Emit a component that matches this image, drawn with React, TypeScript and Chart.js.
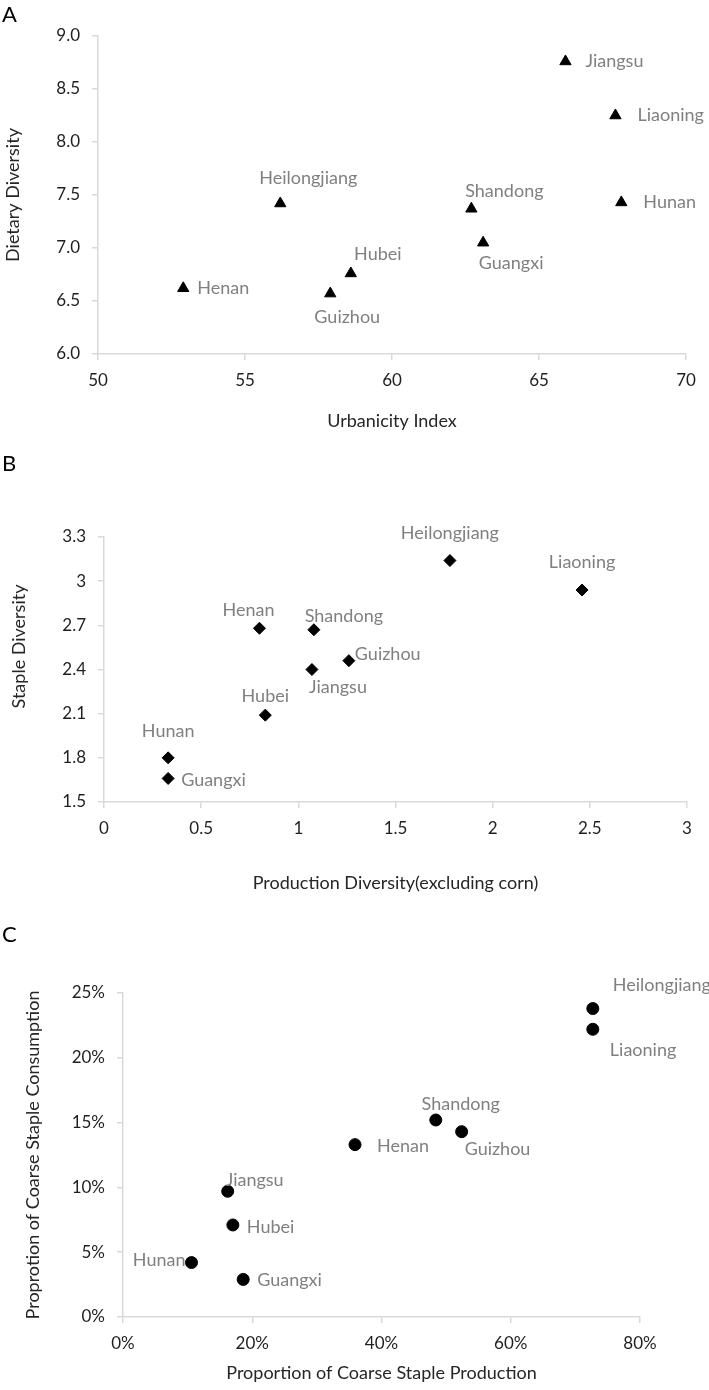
import React, { useEffect, useRef } from "react";
import { Chart, registerables } from "chart.js";

Chart.register(...registerables);

// ---------- Panel A data ----------
const provincesA = ["Jiangsu", "Liaoning", "Hunan", "Heilongjiang", "Shandong", "Guangxi", "Hubei", "Guizhou", "Henan"];
const urbanicityIndex = [65.9, 67.6, 67.8, 56.2, 62.7, 63.1, 58.6, 57.9, 52.9];
const dietaryDiversity = [8.76, 8.25, 7.43, 7.42, 7.37, 7.05, 6.76, 6.57, 6.62];
const xTicksA = [50, 55, 60, 65, 70];
const yTicksA = [6.0, 6.5, 7.0, 7.5, 8.0, 8.5, 9.0];

// ---------- Panel B data ----------
const provincesB = ["Heilongjiang", "Liaoning", "Henan", "Shandong", "Guizhou", "Jiangsu", "Hubei", "Hunan", "Guangxi"];
const productionDiversity = [1.78, 2.46, 0.8, 1.08, 1.26, 1.07, 0.83, 0.33, 0.33];
const stapleDiversity = [3.14, 2.94, 2.68, 2.67, 2.46, 2.4, 2.09, 1.8, 1.66];
const xTicksB = [0, 0.5, 1, 1.5, 2, 2.5, 3];
const yTicksB = [1.5, 1.8, 2.1, 2.4, 2.7, 3.0, 3.3];

// ---------- Panel C data (percent) ----------
const provincesC = ["Heilongjiang", "Liaoning", "Shandong", "Guizhou", "Henan", "Jiangsu", "Hubei", "Hunan", "Guangxi"];
const coarseProduction = [72.7, 72.7, 48.4, 52.4, 35.9, 16.2, 17.0, 10.6, 18.6];
const coarseConsumption = [23.8, 22.2, 15.2, 14.3, 13.3, 9.7, 7.1, 4.2, 2.9];
const xTicksC = [0, 20, 40, 60, 80];
const yTicksC = [0, 5, 10, 15, 20, 25];

// ---------- label placement (layout only) ----------
type Place = [number, number, CanvasTextAlign];
const placeA: Place[] = [
  [20, 0, "left"], [22, 0, "left"], [22, 0, "left"], [28, -25, "center"], [33, -18, "center"],
  [28, 20, "center"], [27, -19, "center"], [17, 24, "center"], [14, 0, "left"],
];
const placeB: Place[] = [
  [0, -27, "center"], [0, -28, "center"], [-11, -18, "center"], [30, -14, "center"], [6, -6, "left"],
  [26, 18, "center"], [0, -19, "center"], [0, -27, "center"], [13, 2, "left"],
];
const placeC: Place[] = [
  [20, -23, "left"], [17, 21, "left"], [25, -16, "center"], [3, 18, "left"], [22, 2, "left"],
  [-2, -11, "left"], [14, 2, "left"], [-6, -2, "right"], [14, 1, "left"],
];

const FONT = "Lato, 'Open Sans', sans-serif";
const AXIS = "#d9d9d9";
const TICK_COLOR = "#1f1f1f";
const TITLE_COLOR = "#262626";
const LABEL_COLOR = "#808080";

interface PanelProps {
  top: number;
  height: number;
  names: string[];
  xs: number[];
  ys: number[];
  xTicks: number[];
  yTicks: number[];
  xFmt: (v: number) => string;
  yFmt: (v: number) => string;
  xTitle: string;
  yTitle: string;
  pointStyle: any;
  radius: number;
  place: Place[];
  plotLeft: number;
  plotRight: number;
  plotTop: number;
  plotBottom: number;
  xTitlePad: number;
  yTitleX: number;
  yTitleShift: number;
}

function Panel(p: PanelProps) {
  const ref = useRef<HTMLCanvasElement | null>(null);
  useEffect(() => {
    const canvas = ref.current!;
    const labelPlugin = {
      id: "pointLabelsAndYTitle",
      afterDatasetsDraw(chart: any) {
        const ctx = chart.ctx;
        const meta = chart.getDatasetMeta(0);
        ctx.save();
        ctx.font = `18px ${FONT}`;
        ctx.fillStyle = LABEL_COLOR;
        ctx.textBaseline = "middle";
        meta.data.forEach((pt: any, i: number) => {
          const [dx, dy, align] = p.place[i];
          ctx.textAlign = align;
          ctx.fillText(p.names[i], pt.x + dx, pt.y + dy);
        });
        // y-axis title
        const ca = chart.chartArea;
        ctx.translate(p.yTitleX, (ca.top + ca.bottom) / 2 + p.yTitleShift);
        ctx.rotate(-Math.PI / 2);
        ctx.textAlign = "center";
        ctx.fillStyle = TITLE_COLOR;
        ctx.fillText(p.yTitle, 0, 0);
        ctx.restore();
      },
    };
    const chart = new Chart(canvas, {
      type: "scatter",
      data: {
        datasets: [
          {
            data: p.xs.map((x, i) => ({ x, y: p.ys[i] })),
            pointStyle: p.pointStyle,
            pointRadius: p.radius,
            pointBackgroundColor: "#000",
            pointBorderColor: "#000",
            pointBorderWidth: 1,
            clip: false as any,
          },
        ],
      },
      options: {
        animation: false,
        responsive: false,
        devicePixelRatio: 1,
        events: [],
        layout: { padding: { left: 0, right: 709 - p.plotRight, top: p.plotTop, bottom: 0 } },
        plugins: { legend: { display: false }, tooltip: { enabled: false } },
        scales: {
          x: {
            type: "linear",
            min: p.xTicks[0],
            max: p.xTicks[p.xTicks.length - 1],
            afterBuildTicks: (s: any) => {
              s.ticks = p.xTicks.map((v) => ({ value: v }));
            },
            afterFit: (s: any) => {
              s.height = p.height - p.plotBottom;
            },
            ticks: {
              callback: (v: any) => p.xFmt(Number(v)),
              font: { family: FONT, size: 17 },
              color: TICK_COLOR,
              padding: 10,
              maxRotation: 0,
              autoSkip: false,
            },
            grid: { drawOnChartArea: false, drawTicks: true, tickLength: 6, color: AXIS, lineWidth: 1.5 },
            border: { display: true, color: AXIS, width: 1.5 },
            title: {
              display: true,
              text: p.xTitle,
              font: { family: FONT, size: 18 },
              color: TITLE_COLOR,
              padding: { top: 0, bottom: p.xTitlePad },
            },
          },
          y: {
            type: "linear",
            min: p.yTicks[0],
            max: p.yTicks[p.yTicks.length - 1],
            afterBuildTicks: (s: any) => {
              s.ticks = p.yTicks.map((v) => ({ value: v }));
            },
            afterFit: (s: any) => {
              s.width = p.plotLeft;
            },
            ticks: {
              callback: (v: any) => p.yFmt(Number(v)),
              font: { family: FONT, size: 17 },
              color: TICK_COLOR,
              padding: 12,
              autoSkip: false,
            },
            grid: { drawOnChartArea: false, drawTicks: true, tickLength: 6, color: AXIS, lineWidth: 1.5 },
            border: { display: true, color: AXIS, width: 1.5 },
          },
        },
      } as any,
      plugins: [labelPlugin],
    });
    return () => chart.destroy();
  }, []);
  return (
    <canvas
      ref={ref}
      width={709}
      height={p.height}
      style={{ position: "absolute", left: 0, top: p.top, width: 709, height: p.height }}
    />
  );
}

const letterStyle = (top: number): React.CSSProperties => ({
  position: "absolute",
  left: 2,
  top,
  fontFamily: FONT,
  fontSize: 22,
  lineHeight: "22px",
  color: "#000",
});

export default function App() {
  useEffect(() => {
    document.body.style.margin = "0";
  }, []);
  const fmt1 = (v: number) => v.toFixed(1);
  const fmtTrim = (v: number) => String(Number(v.toFixed(2)));
  const fmtPct = (v: number) => `${Math.round(v)}%`;
  return (
    <div style={{ position: "relative", width: 709, height: 1390, background: "#fff", overflow: "hidden" }}>
      <Panel
        top={0}
        height={440}
        names={provincesA}
        xs={urbanicityIndex}
        ys={dietaryDiversity}
        xTicks={xTicksA}
        yTicks={yTicksA}
        xFmt={(v) => String(v)}
        yFmt={fmt1}
        xTitle="Urbanicity Index"
        yTitle="Dietary Diversity"
        pointStyle="triangle"
        radius={6.5}
        place={placeA}
        plotLeft={98}
        plotRight={686}
        plotTop={36}
        plotBottom={354}
        xTitlePad={8}
        yTitleX={13}
        yTitleShift={0}
      />
      <Panel
        top={440}
        height={460}
        names={provincesB}
        xs={productionDiversity}
        ys={stapleDiversity}
        xTicks={xTicksB}
        yTicks={yTicksB}
        xFmt={fmtTrim}
        yFmt={fmtTrim}
        xTitle="Production Diversity(excluding corn)"
        yTitle="Staple Diversity"
        pointStyle="rectRot"
        radius={6}
        place={placeB}
        plotLeft={104}
        plotRight={687}
        plotTop={97}
        plotBottom={362}
        xTitlePad={6}
        yTitleX={19}
        yTitleShift={-23}
      />
      <Panel
        top={900}
        height={490}
        names={provincesC}
        xs={coarseProduction}
        ys={coarseConsumption}
        xTicks={xTicksC}
        yTicks={yTicksC}
        xFmt={fmtPct}
        yFmt={fmtPct}
        xTitle="Proportion of Coarse Staple Production"
        yTitle="Proprotion of Coarse Staple Consumption"
        pointStyle="circle"
        radius={6}
        place={placeC}
        plotLeft={123}
        plotRight={640}
        plotTop={93}
        plotBottom={417}
        xTitlePad={6}
        yTitleX={33}
        yTitleShift={0}
      />
      <div style={letterStyle(3)}>A</div>
      <div style={letterStyle(452)}>B</div>
      <div style={letterStyle(923)}>C</div>
    </div>
  );
}
